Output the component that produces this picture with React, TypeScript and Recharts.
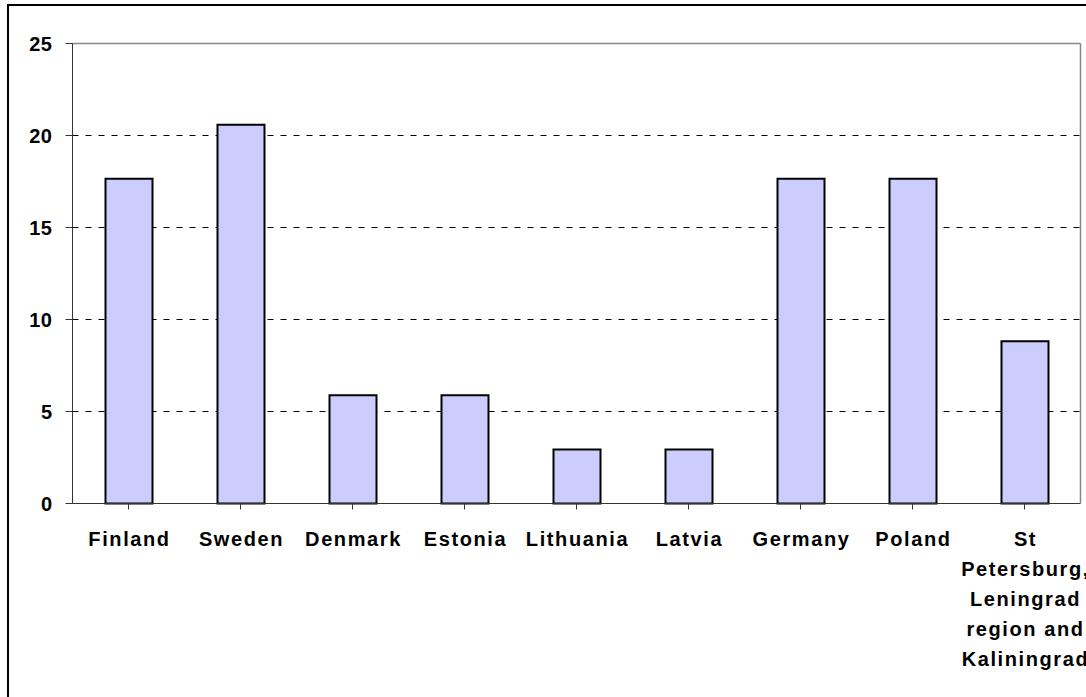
import React from "react";
import { BarChart, Bar, XAxis, YAxis, CartesianGrid, ReferenceLine } from "recharts";

const categories = [
  "Finland",
  "Sweden",
  "Denmark",
  "Estonia",
  "Lithuania",
  "Latvia",
  "Germany",
  "Poland",
  "St\nPetersburg,\nLeningrad\nregion and\nKaliningrad",
];
const values = [17.65, 20.59, 5.88, 5.88, 2.94, 2.94, 17.65, 17.65, 8.82];
const yTicks = [0, 5, 10, 15, 20, 25];

const data = categories.map((c, i) => ({ name: c, value: values[i] }));

const FONT = "'Liberation Sans', Arial, sans-serif";

const XTick = (props: any) => {
  const { x, y, payload } = props;
  const lines = String(payload.value).split("\n");
  return (
    <text
      x={x}
      y={y}
      textAnchor="middle"
      fontFamily={FONT}
      fontWeight="bold"
      fontSize={20}
      letterSpacing={1.6}
      fill="#000"
    >
      {lines.map((l: string, i: number) => (
        <tspan key={i} x={x + 1} y={y + 34 + i * 30}>
          {l}
        </tspan>
      ))}
    </text>
  );
};

const YTick = (props: any) => {
  const { x, y, payload } = props;
  return (
    <text
      x={x}
      y={y + 7}
      textAnchor="end"
      fontFamily={FONT}
      fontWeight="bold"
      fontSize={20}
      letterSpacing={0.5}
      fill="#000"
    >
      {payload.value}
    </text>
  );
};

export default function App() {
  return (
    <div
      style={{
        position: "absolute",
        left: 0,
        top: 0,
        width: 1086,
        height: 697,
        overflow: "hidden",
        background: "#fff",
      }}
    >
      <div
        style={{
          position: "absolute",
          left: 7,
          top: 4,
          width: 1200,
          height: 800,
          border: "2px solid #000",
          boxSizing: "border-box",
        }}
      />
      <div style={{ position: "absolute", left: 0, top: 0 }}>
        <BarChart
          width={1086}
          height={697}
          data={data}
          margin={{ top: 43.5, right: 4.5, left: 0, bottom: 0 }}
          barSize={47}
        >
          <CartesianGrid
            vertical={false}
            stroke="#000"
            strokeDasharray="6 7"
            strokeWidth={1}
          />
          <XAxis
            dataKey="name"
            interval={0}
            height={193.5}
            tickSize={6}
            tickLine={{ stroke: "#333" }}
            axisLine={{ stroke: "#333" }}
            tick={<XTick />}
          />
          <YAxis
            domain={[0, 25]}
            ticks={yTicks}
            width={72.5}
            tickSize={7}
            tickMargin={13}
            tickLine={{ stroke: "#333" }}
            axisLine={{ stroke: "#333" }}
            tick={<YTick />}
            interval={0}
          />
          <YAxis
            yAxisId="right"
            orientation="right"
            width={1}
            domain={[0, 25]}
            ticks={yTicks}
            tick={false}
            tickLine={false}
            axisLine={{ stroke: "#888", strokeWidth: 1.5 }}
          />
          <ReferenceLine y={25} stroke="#888" strokeWidth={1.5} />
          <Bar
            dataKey="value"
            fill="#CCCCFF"
            stroke="#000"
            strokeWidth={2}
            isAnimationActive={false}
          />
        </BarChart>
      </div>
    </div>
  );
}
